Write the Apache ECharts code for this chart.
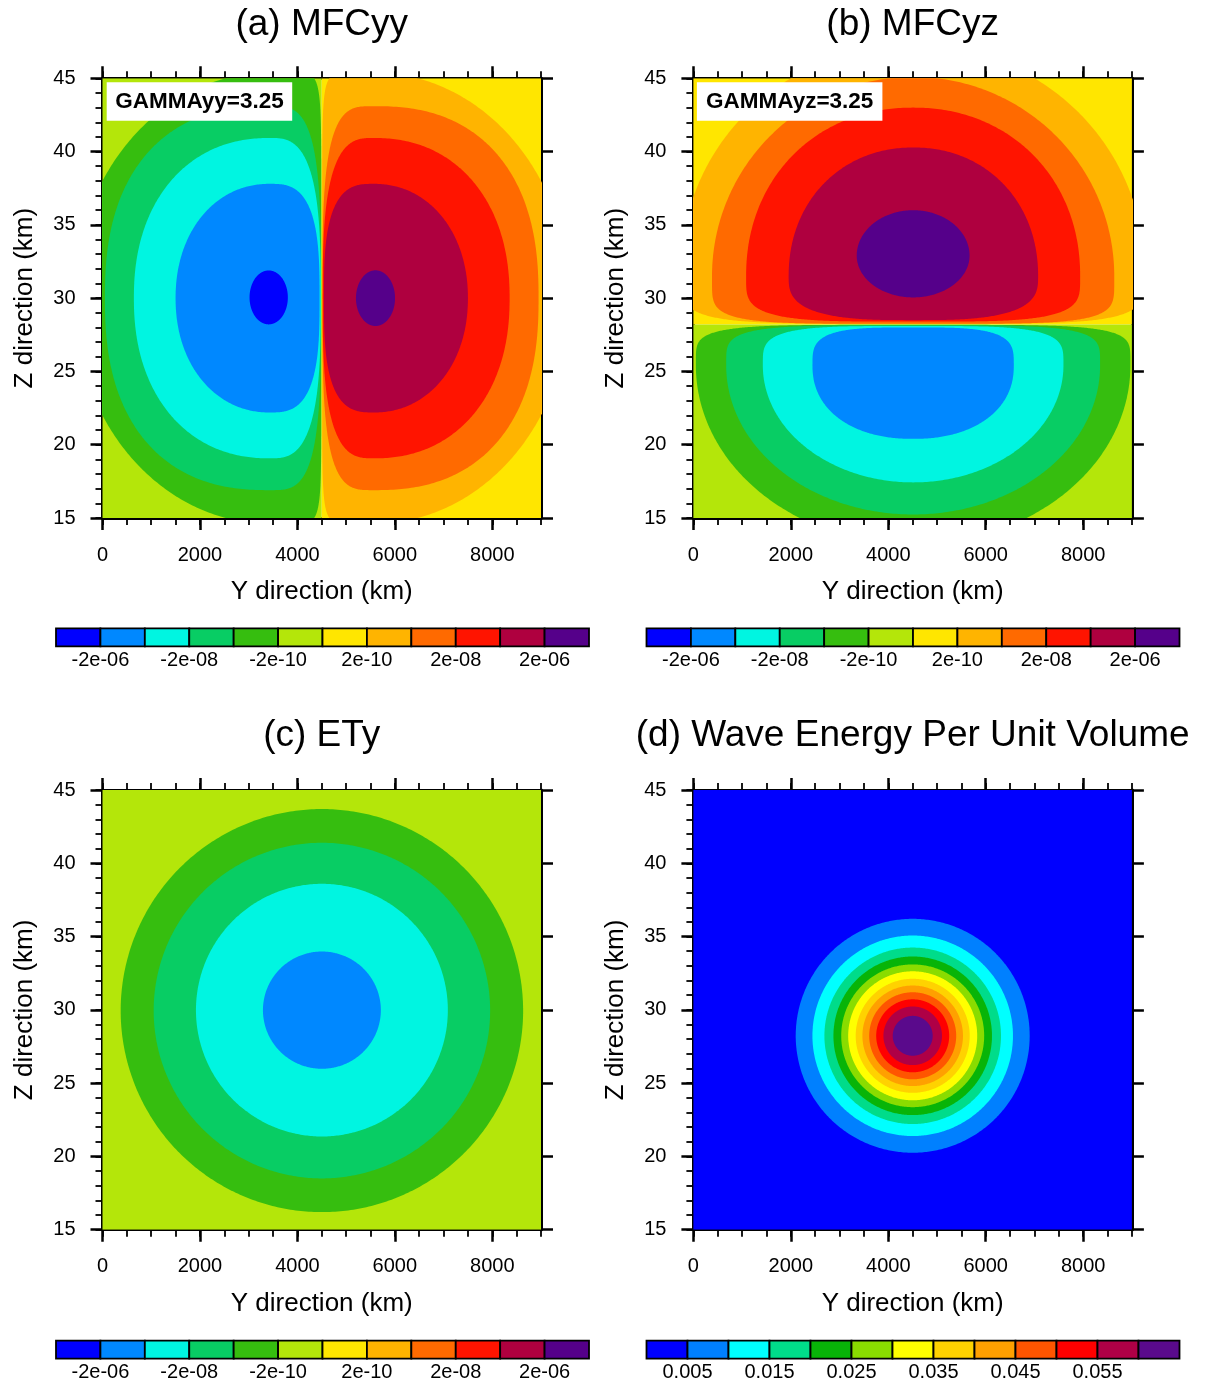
<!DOCTYPE html>
<html>
<head>
<meta charset="utf-8">
<script src="https://cdn.jsdelivr.net/npm/echarts@6/dist/echarts.min.js"></script>
<style>
  html, body { margin: 0; padding: 0; background: #fff; }
  #chart { width: 1207px; height: 1385px; }
</style>
</head>
<body>
<div id="chart"></div>
<script>
// ---- axes -------------------------------------------------------------
const yDirRange = [0, 9000];          // km
const zDirRange = [15, 45];           // km
const yMajorTicks = [0, 2000, 4000, 6000, 8000];
const yMinorStep = 500;
const zMajorStep = 5;
const zMinorStep = 1;

// ---- colour scales ----------------------------------------------------
const mfcColors = ['#0000FF', '#0088FF', '#00F5E1', '#08CD64', '#36BE0F', '#B4E60A',
                   '#FFE600', '#FFB400', '#FF6A00', '#FF1400', '#AF003F', '#55008A'];
const mfcLabels = ['-2e-06', '-2e-08', '-2e-10', '2e-10', '2e-08', '2e-06'];
const mfcLabelAt = [1, 3, 5, 7, 9, 11];

const energyColors = ['#0000FF', '#0080FF', '#00FFFF', '#00DC8A', '#08B408', '#8ADC00', '#FFFF00',
                      '#FFD200', '#FFA000', '#FF5500', '#FF0000', '#AF0046', '#5A0A8C'];
const energyLabels = ['0.005', '0.015', '0.025', '0.035', '0.045', '0.055'];
const energyLabelAt = [1, 3, 5, 7, 9, 11];

// ---- filled contour regions --------------------------------------------
// background blocks: [colour, y from, y to, z from, z to]
// regions: [colour, centre y, centre z, reach left, reach right, reach up, reach down,
//           exponent up-left, up-right, down-left, down-right]
const mfcyyBackground = [
  [5, 0, 4500, 15, 45],
  [6, 4500, 9000, 15, 45]
];
const mfcyyRegions = [
  [4, 3430, 30, 4015, 1060, 15.39, 15.39, 2, 10, 2, 10],
  [3, 3434, 30, 3384, 1051, 13.1, 13.1, 2.4, 3.5, 2.4, 3.5],
  [2, 3434, 30, 2790, 1046, 10.93, 10.93, 2.2, 3, 2.2, 3],
  [1, 3430, 30, 1930, 1025, 7.8, 7.8, 2.1, 3, 2.1, 3],
  [0, 3411, 30.05, 393, 393, 1.84, 1.84, 2, 2, 2, 2],
  [7, 5570, 30, 1060, 4015, 15.39, 15.39, 10, 2, 10, 2],
  [8, 5566, 30, 1051, 3384, 13.1, 13.1, 3.5, 2.4, 3.5, 2.4],
  [9, 5566, 30, 1046, 2790, 10.93, 10.93, 3, 2.2, 3, 2.2],
  [10, 5570, 30, 1025, 1930, 7.8, 7.8, 3, 2.1, 3, 2.1],
  [11, 5603, 30, 401, 401, 1.9, 1.9, 2, 2, 2, 2]
];

const mfcyzBackground = [
  [6, 0, 9000, 28.21, 45],
  [5, 0, 9000, 15, 28.21]
];
const mfcyzRegions = [
  [7, 4500, 32.0, 4751, 4751, 15.3, 3.75, 2, 2, 5, 5],
  [8, 4510, 31.5, 4128, 4128, 13.6, 3.25, 2, 2, 5, 5],
  [9, 4510, 31.5, 3428, 3428, 11.5, 3.1, 2.1, 2.1, 4, 4],
  [10, 4515, 31.5, 2560, 2560, 8.78, 3.0, 2.1, 2.1, 3, 3],
  [11, 4510, 32.9, 1158, 1158, 3.1, 2.85, 2, 2, 2, 2],
  [4, 4510, 25.4, 4459, 4459, 2.78, 12.19, 5, 5, 2, 2],
  [3, 4510, 25.4, 3837, 3837, 2.75, 10.16, 4.5, 4.5, 2, 2],
  [2, 4510, 25.4, 3085, 3085, 2.7, 7.97, 4, 4, 2, 2],
  [1, 4510, 25.4, 2066, 2066, 2.6, 5.0, 3.6, 3.6, 2.2, 2.2]
];

const etyBackground = [
  [5, 0, 9000, 15, 45]
];
const etyRegions = [
  [4, 4503, 29.95, 4130, 4130, 13.75, 13.75, 2, 2, 2, 2],
  [3, 4503, 29.95, 3453, 3453, 11.45, 11.45, 2, 2, 2, 2],
  [2, 4503, 29.98, 2585, 2585, 8.62, 8.62, 2, 2, 2, 2],
  [1, 4503, 29.98, 1210, 1210, 4.0, 4.0, 2, 2, 2, 2]
];

// wave energy: concentric bands round one centre
const energyCentre = [4501, 28.23];
const energyBackground = [
  [0, 0, 9000, 15, 45]
];
const energyBand = [1, 2, 3, 4, 5, 6, 7, 8, 9, 10, 11, 12];
const energyReachY = [2401, 2058, 1812, 1627, 1467, 1324, 1170, 1032, 893, 749, 601, 410];
const energyReachZ = [7.98, 6.84, 6.02, 5.41, 4.87, 4.40, 3.89, 3.43, 2.97, 2.49, 2.0, 1.36];
const energyRegions = energyBand.map((c, i) => [c, energyCentre[0], energyCentre[1],
  energyReachY[i], energyReachY[i], energyReachZ[i], energyReachZ[i], 2, 2, 2, 2]);

// ---- layout -----------------------------------------------------------
const FONT = '"Liberation Sans", Arial, Helvetica, sans-serif';
const panels = [
  { left: 102.5, top: 78.3, title: '(a) MFCyy', bg: mfcyyBackground, regions: mfcyyRegions, colors: mfcColors },
  { left: 693.4, top: 78.3, title: '(b) MFCyz', bg: mfcyzBackground, regions: mfcyzRegions, colors: mfcColors },
  { left: 102.5, top: 790, title: '(c) ETy', bg: etyBackground, regions: etyRegions, colors: mfcColors },
  { left: 693.4, top: 790, title: '(d) Wave Energy Per Unit Volume', bg: energyBackground, regions: energyRegions, colors: energyColors }
];
const PW = 438.5, PH = 439.7;
const bars = [
  { left: 56, top: 628.3, colors: mfcColors, labels: mfcLabels, at: mfcLabelAt },
  { left: 646.5, top: 628.3, colors: mfcColors, labels: mfcLabels, at: mfcLabelAt },
  { left: 56, top: 1340.7, colors: mfcColors, labels: mfcLabels, at: mfcLabelAt },
  { left: 646.5, top: 1340.7, colors: energyColors, labels: energyLabels, at: energyLabelAt }
];
const BW = 533, BH = 18;

// superellipse-type outline, one exponent per quadrant
function outline(r, api) {
  const cy = r[1], cz = r[2], rl = r[3], rr = r[4], rt = r[5], rb = r[6];
  const ptl = r[7], ptr = r[8], pbl = r[9], pbr = r[10];
  const pts = [];
  const N = 480;
  for (let k = 0; k < N; k++) {
    const t = (k / N) * Math.PI * 2;
    const c = Math.cos(t), s = Math.sin(t);
    const right = c >= 0, up = s >= 0;
    const p = up ? (right ? ptr : ptl) : (right ? pbr : pbl);
    const dx = (right ? rr : rl) * Math.sign(c) * Math.pow(Math.abs(c), 2 / p);
    const dz = (up ? rt : rb) * Math.sign(s) * Math.pow(Math.abs(s), 2 / p);
    pts.push(api.coord([cy + dx, cz + dz]));
  }
  return pts;
}

const grid = [], xAxis = [], yAxis = [], series = [], graphic = [];
const black = '#000';

panels.forEach((pn, g) => {
  grid.push({ left: pn.left, top: pn.top, width: PW, height: PH });
  const xb = { type: 'value', gridIndex: g, min: yDirRange[0], max: yDirRange[1], splitLine: { show: false } };
  const zb = { type: 'value', gridIndex: g, min: zDirRange[0], max: zDirRange[1], splitLine: { show: false } };
  const line = { show: true, onZero: false, lineStyle: { color: black, width: 3 } };
  const majorTick = { show: true, length: 12, lineStyle: { color: black, width: 2.5 } };
  const minorTick = { show: true, length: 7, lineStyle: { color: black, width: 1.8 } };
  const xi = xAxis.length, yi = yAxis.length;
  xAxis.push(
    Object.assign({}, xb, {
      position: 'bottom', axisLine: line,
      axisTick: Object.assign({ customValues: yMajorTicks }, majorTick),
      axisLabel: { show: true, customValues: yMajorTicks, formatter: v => String(v),
                   fontSize: 20, color: black, fontFamily: FONT, margin: 27 },
      name: 'Y direction (km)', nameLocation: 'middle', nameGap: 61,
      nameTextStyle: { fontSize: 26, color: black, fontFamily: FONT }
    }),
    Object.assign({}, xb, { position: 'bottom', interval: yMinorStep, axisLine: { show: false },
                            axisTick: minorTick, axisLabel: { show: false } }),
    Object.assign({}, xb, { position: 'top', axisLine: line,
                            axisTick: Object.assign({ customValues: yMajorTicks }, majorTick),
                            axisLabel: { show: false } }),
    Object.assign({}, xb, { position: 'top', interval: yMinorStep, axisLine: { show: false },
                            axisTick: minorTick, axisLabel: { show: false } })
  );
  yAxis.push(
    Object.assign({}, zb, {
      position: 'left', interval: zMajorStep, axisLine: line, axisTick: majorTick,
      axisLabel: { show: true, formatter: v => String(v), fontSize: 20, color: black,
                   fontFamily: FONT, margin: 27 },
      name: 'Z direction (km)', nameLocation: 'middle', nameGap: 65,
      nameTextStyle: { fontSize: 26, color: black, fontFamily: FONT }
    }),
    Object.assign({}, zb, { position: 'left', interval: zMinorStep, axisLine: { show: false },
                            axisTick: minorTick, axisLabel: { show: false } }),
    Object.assign({}, zb, { position: 'right', interval: zMajorStep, axisLine: line,
                            axisTick: majorTick, axisLabel: { show: false } }),
    Object.assign({}, zb, { position: 'right', interval: zMinorStep, axisLine: { show: false },
                            axisTick: minorTick, axisLabel: { show: false } })
  );

  const items = pn.bg.map(b => ({ rect: true, row: b }))
    .concat(pn.regions.map(r => ({ rect: false, row: r })));
  series.push({
    type: 'custom', xAxisIndex: xi, yAxisIndex: yi, clip: true, silent: true, z: 1,
    data: items.map(it => it.rect ? [it.row[1], it.row[3]] : [it.row[1], it.row[2]]),
    renderItem(params, api) {
      const it = items[params.dataIndex];
      const col = pn.colors[it.row[0]];
      if (it.rect) {
        const a = api.coord([it.row[1], it.row[4]]);
        const b = api.coord([it.row[2], it.row[3]]);
        return { type: 'rect', shape: { x: a[0], y: a[1], width: b[0] - a[0], height: b[1] - a[1] },
                 style: { fill: col } };
      }
      return { type: 'polygon', shape: { points: outline(it.row, api) }, style: { fill: col } };
    }
  });

  graphic.push({
    type: 'text', x: pn.left + PW / 2, y: pn.top - 54, z: 100,
    style: { text: pn.title, fontSize: 37, fontFamily: FONT, fill: black,
             align: 'center', verticalAlign: 'middle', textAlign: 'center', textVerticalAlign: 'middle' }
  });
});

// colour bars
bars.forEach((cb, k) => {
  const g = grid.length;
  grid.push({ left: cb.left, top: cb.top, width: BW, height: BH });
  const n = cb.colors.length;
  const xi = xAxis.length, yi = yAxis.length;
  xAxis.push({
    type: 'value', gridIndex: g, min: 0, max: n, interval: 1, position: 'bottom',
    axisLine: { show: false }, axisTick: { show: false }, splitLine: { show: false },
    axisLabel: { show: true, customValues: cb.at, fontSize: 20, color: black, fontFamily: FONT, margin: 4,
                 formatter: v => cb.labels[cb.at.indexOf(v)] }
  });
  yAxis.push({ type: 'value', gridIndex: g, min: 0, max: 1, show: false });
  series.push({
    type: 'custom', xAxisIndex: xi, yAxisIndex: yi, silent: true,
    data: cb.colors.map((c, i) => [i + 0.5, 0.5]),
    renderItem(params, api) {
      const i = params.dataIndex;
      const a = api.coord([i, 1]), b = api.coord([i + 1, 0]);
      return { type: 'rect', shape: { x: a[0], y: a[1], width: b[0] - a[0], height: b[1] - a[1] },
               style: { fill: cb.colors[i], stroke: black, lineWidth: 1.8 } };
    }
  });
});

// parameter boxes
[
  { x: 106.7, text: 'GAMMAyy=3.25' },
  { x: 696.9, text: 'GAMMAyz=3.25' }
].forEach(b => {
  graphic.push({ type: 'rect', z: 100, shape: { x: b.x, y: 82.3, width: 185.5, height: 38.4 },
                 style: { fill: '#fff' } });
  graphic.push({ type: 'text', z: 101, x: b.x + 92.8, y: 101.5,
                 style: { text: b.text, fontSize: 22.5, fontWeight: 'bold', fontFamily: FONT, fill: black,
                          align: 'center', verticalAlign: 'middle', textAlign: 'center', textVerticalAlign: 'middle' } });
});

const chart = echarts.init(document.getElementById('chart'), null, { renderer: 'canvas' });
chart.setOption({
  backgroundColor: '#fff',
  animation: false,
  tooltip: { show: false },
  grid, xAxis, yAxis, series, graphic
});
</script>
</body>
</html>
